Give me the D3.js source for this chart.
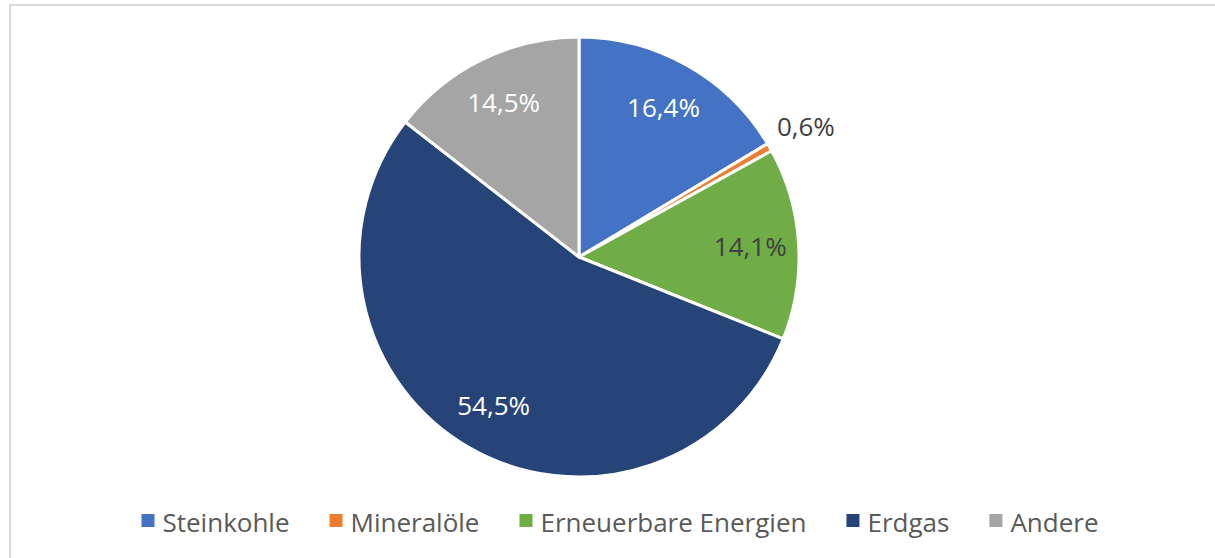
<!DOCTYPE html>
<html lang="de">
<head>
  <meta charset="UTF-8">
  <title>Anteile</title>
  <script src="https://d3js.org/d3.v7.min.js"></script>
  <style>
    body { margin: 0; padding: 0; background: #fff; }
    svg { display: block; }
    text { font-family: "Open Sans", sans-serif; }
  </style>
</head>
<body>
<svg id="chart" width="1215" height="558"></svg>
<script>
const categories = ["Steinkohle", "Mineralöle", "Erneuerbare Energien", "Erdgas", "Andere"];
const values = [16.4, 0.6, 14.1, 54.5, 14.5];
const labels = ["16,4%", "0,6%", "14,1%", "54,5%", "14,5%"];
const colors = ["#4472C4", "#ED7D31", "#70AD47", "#264478", "#A5A5A5"];
const labelColors = ["#ffffff", "#404040", "#404040", "#ffffff", "#ffffff"];

const svg = d3.select("#chart");
const cx = 579, cy = 257, radius = 220;

// frame
svg.append("rect")
  .attr("x", 10).attr("y", 5)
  .attr("width", 1215).attr("height", 560)
  .attr("fill", "none")
  .attr("stroke", "#d9d9d9")
  .attr("stroke-width", 2);

const data = categories.map((c, i) => ({ name: c, value: values[i], label: labels[i], color: colors[i], tc: labelColors[i] }));

const pie = d3.pie().value(d => d.value).sort(null);
const arc = d3.arc().innerRadius(0).outerRadius(radius);
const labelArc = d3.arc().innerRadius(radius * 0.78).outerRadius(radius * 0.78);
const outerArc = d3.arc().innerRadius(radius * 1.19).outerRadius(radius * 1.19);

const g = svg.append("g").attr("transform", `translate(${cx},${cy})`);
const arcs = pie(data);

g.selectAll("path.slice")
  .data(arcs)
  .enter().append("path")
  .attr("class", "slice")
  .attr("d", arc)
  .attr("fill", d => d.data.color)
  .attr("stroke", "#fff")
  .attr("stroke-width", 3)
  .attr("stroke-linejoin", "round");

g.selectAll("text.lbl")
  .data(arcs)
  .enter().append("text")
  .attr("class", "lbl")
  .attr("transform", d => {
    const small = d.data.value < 2;
    const p = small ? outerArc.centroid(d) : labelArc.centroid(d);
    return `translate(${p[0]},${p[1]})`;
  })
  .attr("text-anchor", "middle")
  .attr("dy", "0.36em")
  .attr("font-size", 26)
  .attr("fill", d => d.data.tc)
  .text(d => d.data.label);

// legend
const legend = svg.append("g");
const items = legend.selectAll("g.item")
  .data(data)
  .enter().append("g")
  .attr("class", "item");

items.append("rect")
  .attr("width", 13).attr("height", 13)
  .attr("y", -13)
  .attr("fill", d => d.color);

items.append("text")
  .attr("x", 21)
  .attr("y", 0)
  .attr("dy", "0.2em")
  .attr("font-size", 26)
  .attr("fill", "#595959")
  .text(d => d.name);

let offset = 0;
items.each(function () {
  const w = d3.select(this).select("text").node().getComputedTextLength();
  d3.select(this).attr("transform", `translate(${offset},0)`);
  offset += 21 + w + 40;
});
const total = offset - 40;
legend.attr("transform", `translate(${620 - total / 2},527)`);
</script>
</body>
</html>
